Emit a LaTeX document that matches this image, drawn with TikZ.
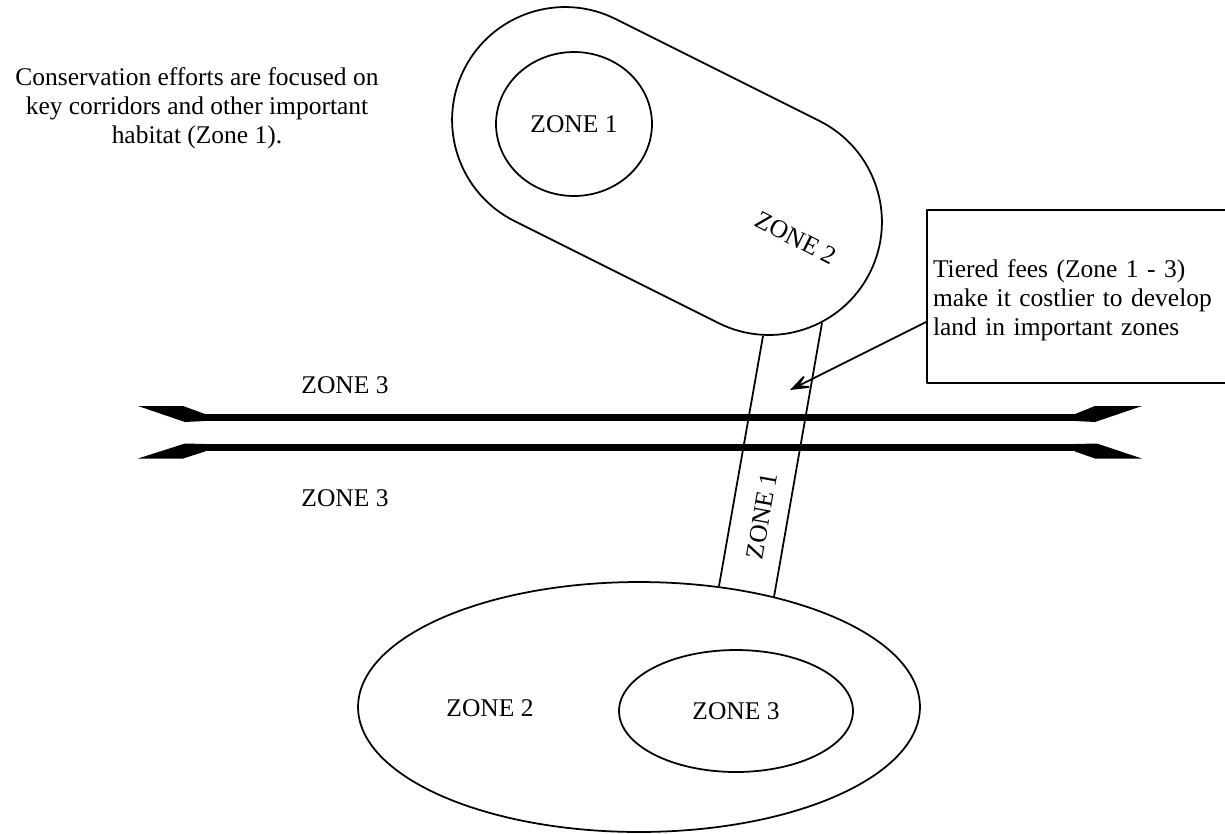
\documentclass[tikz,border=0pt]{standalone}
\usepackage{fontspec}
\setmainfont{Liberation Serif}
\usetikzlibrary{shapes.geometric,shapes.misc,arrows.meta}
\begin{document}
\begin{tikzpicture}[x=0.02cm,y=-0.02cm,line join=round,font=\fontsize{14.5}{16.5}\selectfont,
  zone/.style={draw,line width=1pt,inner sep=0pt},
  road/.style={line width=4pt},
  lbl/.style={inner sep=0pt},
  pointer/.style={line width=1pt,-{Stealth[length=15pt,width=11pt,inset=9pt]}}]
\useasboundingbox (0,0) rectangle (1225,833);
\node[align=center,lbl] (aim) at (197,108) {Conservation efforts are focused on\\key corridors and other important\\habitat (Zone 1).};
\node[zone,rounded rectangle,minimum width=9.08cm,minimum height=4.52cm,rotate=-26.57] (park) at (667,171) {};
\node[zone,ellipse,minimum width=3.12cm,minimum height=2.88cm] (core) at (574,124) {ZONE 1};
\node[lbl,rotate=-27] (buffer) at (796,238) {ZONE 2};
\node[zone,ellipse,minimum width=11.24cm,minimum height=5cm] (town) at (639,707) {};
\node[zone,ellipse,minimum width=4.68cm,minimum height=2.44cm] (centre) at (736,711) {ZONE 3};
\node[lbl] (fringe) at (490,708) {ZONE 2};
\node[lbl] (north) at (345,385) {ZONE 3};
\node[lbl] (south) at (345,498) {ZONE 3};
\coordinate (cl1) at (763,336); \coordinate (cl2) at (719,586);
\coordinate (cr1) at (822,323); \coordinate (cr2) at (774,597);
\draw[line width=1pt] (cl1)--(cl2) (cr1)--(cr2);
\node[lbl,rotate=80] (corridor) at (762,516) {ZONE 1};
\draw[road] (205,417.5)--(1075,417.5) (205,447.8)--(1075,447.8);
\fill (138,406)--(183,406)--(205,414)--(205,421)--(185,422)--cycle
  (138,458.5)--(183,458.5)--(205,451.5)--(205,444)--(185,443.5)--cycle
  (1075,414)--(1095,406)--(1142,406)--(1095,422)--(1075,421)--cycle
  (1075,444)--(1097,443.5)--(1142,458.5)--(1095,458.5)--(1075,451.5)--cycle;
\begin{scope}
\clip (0,0) rectangle (1225,833);
\node[zone,minimum height=3.46cm,text width=5.82cm,align=left,inner xsep=0.12cm] (note) at (1078.5,296.5) {\rule{0pt}{14pt}Tiered fees (Zone 1 - 3)\\make it costlier to develop\\land in important zones};
\end{scope}
\coordinate (tip) at (790,390);
\draw[pointer] ([yshift=-0.51cm]note.west)--(tip);
\end{tikzpicture}
\end{document}
